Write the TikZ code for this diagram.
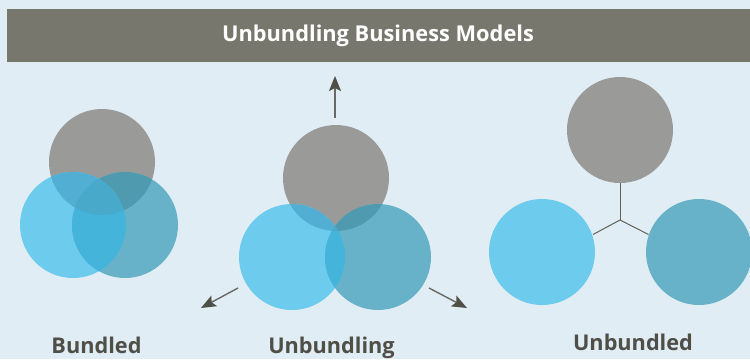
\documentclass[tikz,border=0pt]{standalone}
\usepackage{fontspec}
\setmainfont{Open Sans}
\usetikzlibrary{arrows.meta}
\definecolor{bg}{HTML}{E1EDF4}
\definecolor{bar}{HTML}{77776D}
\definecolor{ink}{HTML}{4F4F47}
\definecolor{cgray}{HTML}{9A9B98}
\definecolor{cblue}{HTML}{6DCBEE}
\definecolor{cteal}{HTML}{67B2C9}
\definecolor{cgb}{HTML}{52AFD3}
\definecolor{cgt}{HTML}{4F9AAE}
\definecolor{cbt}{HTML}{44B4DB}
\definecolor{cgbt}{HTML}{48A9CB}
\begin{document}
\begin{tikzpicture}[x=1pt,y=-1pt,
  disc/.style={circle,minimum size=106pt,inner sep=0pt,draw=none},
  label/.style={font=\bfseries\fontsize{21.7}{26}\selectfont,text=ink,anchor=base},
  pointer/.style={draw=ink!85,line width=1.4pt,-{Stealth[length=15pt,width=12pt,inset=3pt,color=ink]}},
  link/.style={draw=ink!90,line width=1pt}]
  \useasboundingbox (0,0) rectangle (750,359);
  \fill[bg] (0,0) rectangle (750,359);
  % title bar
  \fill[bar] (7,9) rectangle (750,62);
  \node[font=\bfseries\fontsize{21.8}{26}\selectfont,text=white] (title) at (378,36) {Unbundling Business Models};

  % three overlapping circles with tinted intersections
  \def\threeway#1#2#3#4{%
    \node[disc,fill=cgray] (#1g) at (#2) {};
    \node[disc,fill=cblue] (#1b) at (#3) {};
    \node[disc,fill=cteal] (#1t) at (#4) {};
    \begin{scope}\clip (#3) circle (53pt); \fill[cgb] (#2) circle (53pt);\end{scope}
    \begin{scope}\clip (#4) circle (53pt); \fill[cgt] (#2) circle (53pt);\end{scope}
    \begin{scope}\clip (#3) circle (53pt); \fill[cbt] (#4) circle (53pt);\end{scope}
    \begin{scope}\clip (#3) circle (53pt); \clip (#4) circle (53pt); \fill[cgbt] (#2) circle (53pt);\end{scope}
  }
  % bundled
  \threeway{a}{102,162}{73,225}{125,225}
  % unbundling
  \threeway{u}{336,178}{292,257}{378,257}

  % outward arrows
  \coordinate (upA) at (335,118);  \coordinate (upB) at (335,76);
  \coordinate (lfA) at (238,288);  \coordinate (lfB) at (201,308);
  \coordinate (rtA) at (429,288);  \coordinate (rtB) at (467,308);
  \draw[pointer] (upA) -- (upB);
  \draw[pointer] (lfA) -- (lfB);
  \draw[pointer] (rtA) -- (rtB);

  % unbundled
  \node[disc,fill=cgray] (sg) at (620,130) {};
  \node[disc,fill=cblue] (sb) at (542,252) {};
  \node[disc,fill=cteal] (st) at (699,252) {};
  \coordinate (hub) at (620,220);
  \draw[link] (hub) -- (sg.south);
  \draw[link] (hub) -- (593,234.5) coordinate (sbend);
  \draw[link] (hub) -- (648.5,234.5) coordinate (stend);

  % captions
  \node[label] (cap1) at (96.5,353) {Bundled};
  \node[label] (cap2) at (331.5,353) {Unbundling};
  \node[label] (cap3) at (633,350) {Unbundled};
\end{tikzpicture}
\end{document}
